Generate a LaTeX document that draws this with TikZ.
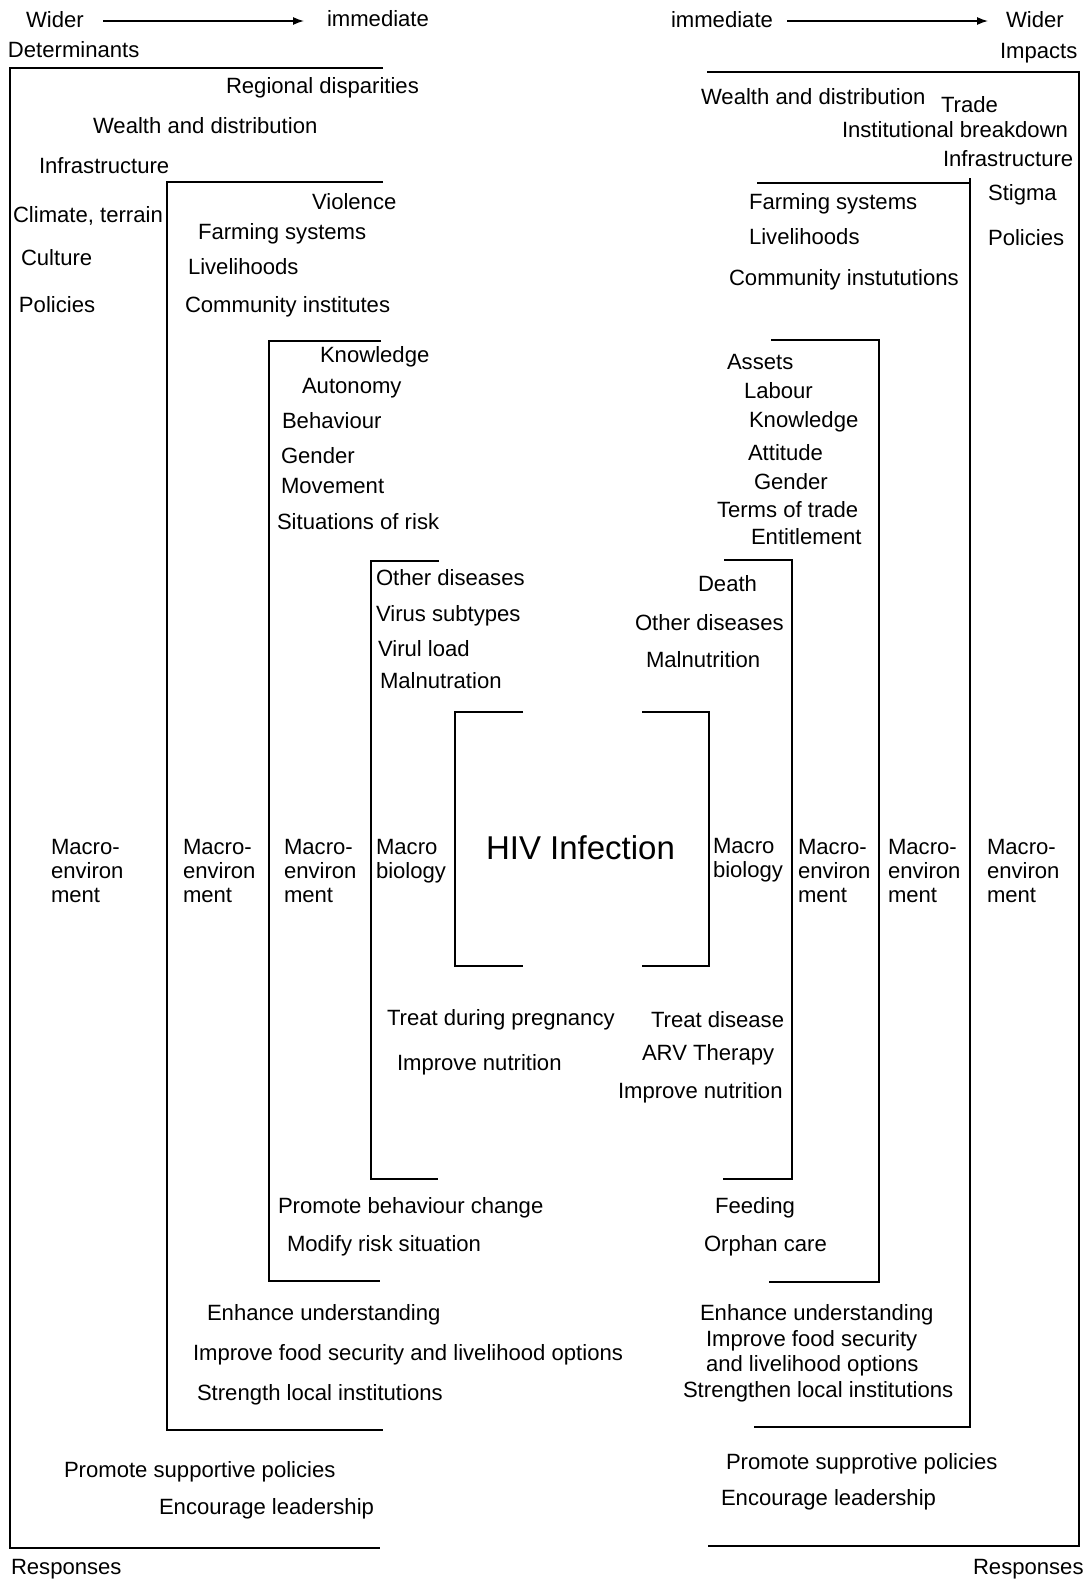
\documentclass[tikz,border=0pt]{standalone}
\usepackage{fontspec}
\setmainfont{Liberation Sans}
\usetikzlibrary{arrows.meta}
\begin{document}
\begin{tikzpicture}[x=1pt,y=-1pt,
  lbl/.style={anchor=base west,inner sep=0pt,outer sep=0pt,font=\fontsize{22.1}{24}\selectfont},
  big/.style={anchor=base west,inner sep=0pt,outer sep=0pt,font=\fontsize{33}{36}\selectfont},
  brk/.style={line width=2pt,line join=miter},
  arr/.style={line width=1.3pt,-{Latex[length=11pt,width=8pt]}}]
\useasboundingbox (0,0) rectangle (1086,1580);

% ---------- headers ----------
\node[lbl] (wl) at (26,27) {Wider};
\node[lbl] (iml) at (327,26) {immediate};
\node[lbl] (det) at (8,57) {Determinants};
\coordinate (a1s) at (103,21);
\coordinate (a1e) at (304,21);
\draw[arr] (a1s) -- (a1e);

\node[lbl] (imr) at (671,27) {immediate};
\node[lbl] (wr) at (1006,27) {Wider};
\node[lbl] (imp) at (1000,58) {Impacts};
\coordinate (a2s) at (787,21);
\coordinate (a2e) at (988,21);
\draw[arr] (a2s) -- (a2e);

% ---------- left brackets ----------
\draw[brk] (383,68) -- (10,68) -- (10,1548) -- (380,1548);
\draw[brk] (383,182) -- (167,182) -- (167,1430) -- (383,1430);
\draw[brk] (381,341) -- (269,341) -- (269,1281) -- (380,1281);
\draw[brk] (439,561) -- (371,561) -- (371,1179) -- (438,1179);
\draw[brk] (523,712) -- (455,712) -- (455,966) -- (523,966);

% ---------- right brackets ----------
\draw[brk] (707,72) -- (1079,72) -- (1079,1546) -- (708,1546);
\draw[brk] (757,183) -- (970,183);
\draw[brk] (970,178) -- (970,1427) -- (754,1427);
\draw[brk] (771,340) -- (879,340) -- (879,1282) -- (769,1282);
\draw[brk] (724,560) -- (792,560) -- (792,1179) -- (723,1179);
\draw[brk] (642,712) -- (709,712) -- (709,966) -- (642,966);

% ---------- left side texts ----------
\node[lbl] (l1a) at (226,93) {Regional disparities};
\node[lbl] (l1b) at (93,133) {Wealth and distribution};
\node[lbl] (l1c) at (39,173) {Infrastructure};
\node[lbl] (l1d) at (13,222) {Climate, terrain};
\node[lbl] (l1e) at (21,265) {Culture};
\node[lbl] (l1f) at (19,312) {Policies};

\node[lbl] (l2a) at (312,209) {Violence};
\node[lbl] (l2b) at (198,239) {Farming systems};
\node[lbl] (l2c) at (188,274) {Livelihoods};
\node[lbl] (l2d) at (185,312) {Community institutes};

\node[lbl] (l3a) at (320,362) {Knowledge};
\node[lbl] (l3b) at (302,393) {Autonomy};
\node[lbl] (l3c) at (282,428) {Behaviour};
\node[lbl] (l3d) at (281,463) {Gender};
\node[lbl] (l3e) at (281,493) {Movement};
\node[lbl] (l3f) at (277,529) {Situations of risk};

\node[lbl] (l4a) at (376,585) {Other diseases};
\node[lbl] (l4b) at (376,621) {Virus subtypes};
\node[lbl] (l4c) at (378,656) {Virul load};
\node[lbl] (l4d) at (380,688) {Malnutration};

% macro columns left
\node[lbl] (m1a) at (51,854) {Macro-};
\node[lbl] (m1b) at (51,878) {environ};
\node[lbl] (m1c) at (51,902) {ment};
\node[lbl] (m2a) at (183,854) {Macro-};
\node[lbl] (m2b) at (183,878) {environ};
\node[lbl] (m2c) at (183,902) {ment};
\node[lbl] (m3a) at (284,854) {Macro-};
\node[lbl] (m3b) at (284,878) {environ};
\node[lbl] (m3c) at (284,902) {ment};
\node[lbl] (m4a) at (376,854) {Macro};
\node[lbl] (m4b) at (376,878) {biology};

\node[big] (hiv) at (486,859) {HIV Infection};

% macro columns right
\node[lbl] (r4a) at (713,853) {Macro};
\node[lbl] (r4b) at (713,877) {biology};
\node[lbl] (r3a) at (798,854) {Macro-};
\node[lbl] (r3b) at (798,878) {environ};
\node[lbl] (r3c) at (798,902) {ment};
\node[lbl] (r2a) at (888,854) {Macro-};
\node[lbl] (r2b) at (888,878) {environ};
\node[lbl] (r2c) at (888,902) {ment};
\node[lbl] (r1a) at (987,854) {Macro-};
\node[lbl] (r1b) at (987,878) {environ};
\node[lbl] (r1c) at (987,902) {ment};

% left responses
\node[lbl] (lr4a) at (387,1025) {Treat during pregnancy};
\node[lbl] (lr4b) at (397,1070) {Improve nutrition};
\node[lbl] (lr3a) at (278,1213) {Promote behaviour change};
\node[lbl] (lr3b) at (287,1251) {Modify risk situation};
\node[lbl] (lr2a) at (207,1320) {Enhance understanding};
\node[lbl] (lr2b) at (193,1360) {Improve food security and livelihood options};
\node[lbl] (lr2c) at (197,1400) {Strength local institutions};
\node[lbl] (lr1a) at (64,1477) {Promote supportive policies};
\node[lbl] (lr1b) at (159,1514) {Encourage leadership};
\node[lbl] (resl) at (11,1574) {Responses};

% ---------- right side texts ----------
\node[lbl] (r1w) at (701,104) {Wealth and distribution};
\node[lbl] (r1t) at (941,112) {Trade};
\node[lbl] (r1i) at (842,137) {Institutional breakdown};
\node[lbl] (r1f) at (943,166) {Infrastructure};
\node[lbl] (r1s) at (988,200) {Stigma};
\node[lbl] (r1p) at (988,245) {Policies};

\node[lbl] (r2fa) at (749,209) {Farming systems};
\node[lbl] (r2li) at (749,244) {Livelihoods};
\node[lbl] (r2co) at (729,285) {Community instututions};

\node[lbl] (r3as) at (727,369) {Assets};
\node[lbl] (r3la) at (744,398) {Labour};
\node[lbl] (r3kn) at (749,427) {Knowledge};
\node[lbl] (r3at) at (748,460) {Attitude};
\node[lbl] (r3ge) at (754,489) {Gender};
\node[lbl] (r3te) at (717,517) {Terms of trade};
\node[lbl] (r3en) at (751,544) {Entitlement};

\node[lbl] (r4de) at (698,591) {Death};
\node[lbl] (r4ot) at (635,630) {Other diseases};
\node[lbl] (r4ma) at (646,667) {Malnutrition};

% right responses
\node[lbl] (rr4a) at (651,1027) {Treat disease};
\node[lbl] (rr4b) at (642,1060) {ARV Therapy};
\node[lbl] (rr4c) at (618,1098) {Improve nutrition};
\node[lbl] (rr3a) at (715,1213) {Feeding};
\node[lbl] (rr3b) at (704,1251) {Orphan care};
\node[lbl] (rr2a) at (700,1320) {Enhance understanding};
\node[lbl] (rr2b) at (706,1346) {Improve food security};
\node[lbl] (rr2c) at (706,1371) {and livelihood options};
\node[lbl] (rr2d) at (683,1397) {Strengthen local institutions};
\node[lbl] (rr1a) at (726,1469) {Promote supprotive policies};
\node[lbl] (rr1b) at (721,1505) {Encourage leadership};
\node[lbl] (resr) at (973,1574) {Responses};
\end{tikzpicture}
\end{document}
